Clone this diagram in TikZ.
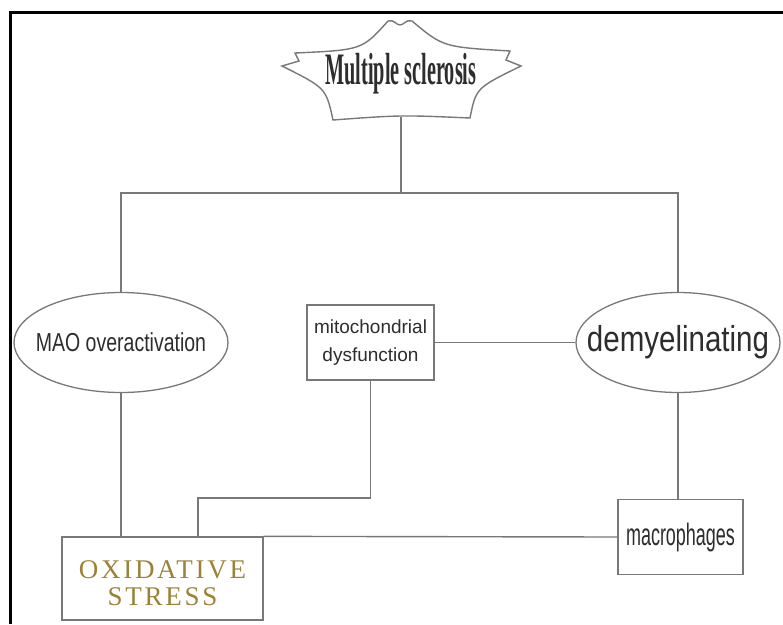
\documentclass[tikz,border=0pt]{standalone}
\usepackage{fontspec}
\usepackage{graphicx}
\setmainfont{Liberation Sans}
\newfontfamily\msfont{Liberation Serif}
\newfontfamily\oxfont{Liberation Serif}[LetterSpace=10]
\usetikzlibrary{shapes.geometric}
\definecolor{ln}{RGB}{120,120,120}
\definecolor{tx}{RGB}{45,45,45}
\definecolor{gold}{RGB}{155,130,55}
\begin{document}
\begin{tikzpicture}[x=1pt,y=-1pt,
  conn/.style={draw=ln, line width=1.4pt},
  ell/.style={ellipse, draw=ln, line width=1.3pt, fill=white, inner sep=0pt, text=tx},
  box/.style={rectangle, draw=ln, line width=1.3pt, fill=white, inner sep=0pt, text=tx}]
\useasboundingbox (0,0) rectangle (783,624);
\fill[white] (0,0) rectangle (783,624);
% star shape
\draw[ln, line width=1.4pt, fill=white]
  (282,66) -- (299,61) -- (295,53)
  .. controls (362,50) .. (388,21)
  .. controls (394,19) and (396,25) .. (400,25)
  .. controls (404,25) and (406,19) .. (412,21)
  .. controls (443,47) .. (510,51)
  -- (506,60) -- (521,66)
  .. controls (476,88) .. (470,118)
  .. controls (401,115) .. (333,120)
  .. controls (326,88) .. (282,66) -- cycle;
\node[text=tx] (ms) at (401,74) {\scalebox{0.45}[1]{\msfont\bfseries\fontsize{45}{45}\selectfont Multiple sclerosis}};
\coordinate (msb) at (401,117);
\coordinate (bar) at (401,193);
% nodes
\node[ell, minimum width=214pt, minimum height=100pt] (mao) at (121,342.5)
  {\makebox[0pt]{\scalebox{0.75}[1]{\fontsize{26}{26}\selectfont MAO overactivation}}};
\node[ell, minimum width=204pt, minimum height=100pt] (dem) at (678,342.5)
  {\makebox[0pt]{\scalebox{0.82}[1]{\fontsize{36}{36}\selectfont demyelinating}}};
\node[box, minimum width=127pt, minimum height=75pt, align=center, font=\fontsize{19}{28}\selectfont] (mito) at (370.5,342.5)
  {mitochondrial\\dysfunction};
\node[box, minimum width=125pt, minimum height=75pt] (mac) at (680.5,537)
  {\scalebox{0.58}[1]{\fontsize{31}{31}\selectfont macrophages}};
\node[box, minimum width=201pt, minimum height=83pt, text=gold] (ox) at (162.5,578.5)
  {\raisebox{-8pt}[\height][\depth]{\oxfont\fontsize{27}{27}\selectfont\begin{tabular}{@{}c@{}}OXIDATIVE\\STRESS\end{tabular}}};
\coordinate (mk) at (198,498);
% connectors
\draw[conn] (msb) -- (bar);
\draw[conn] (mao.north) |- (bar) -| (dem.north);
\draw[conn] (mito.east) -- (dem.west);
\draw[conn] (mao.south) -- (mao.south |- ox.north);
\draw[conn] (mito.south) |- (mk) -- (mk |- ox.north);
\draw[conn] (dem.south) -- (dem.south |- mac.north);
\draw[conn] (mac.west) -- (ox.north east);
% frame
\draw[black, line width=3pt] (10.5,624) -- (10.5,12.5) -- (783,12.5);
\end{tikzpicture}
\end{document}
